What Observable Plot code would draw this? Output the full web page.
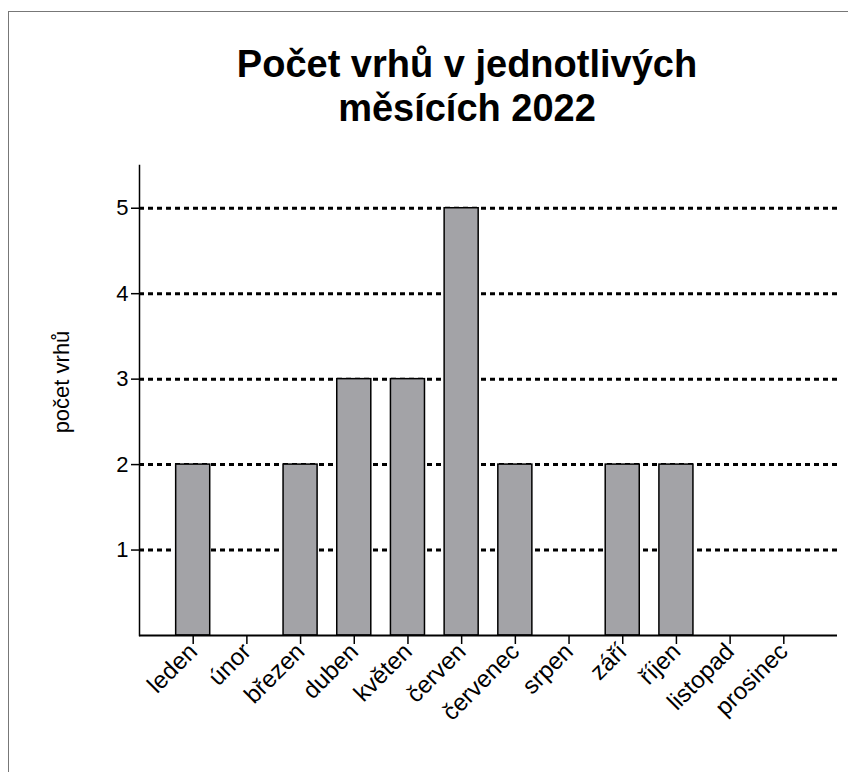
<!DOCTYPE html>
<html><head><meta charset="utf-8">
<script src="https://cdn.jsdelivr.net/npm/d3@7"></script>
<script src="https://cdn.jsdelivr.net/npm/@observablehq/plot@0.6"></script>
<style>
body{margin:0;background:#fff;}
#wrap{position:relative;width:848px;height:772px;overflow:hidden;font-family:"Liberation Sans",Arial,sans-serif;}
#border{position:absolute;left:8px;top:11px;width:1000px;height:1000px;border-left:1.5px solid #777;border-top:1.5px solid #777;}
#title{position:absolute;left:0;top:42px;width:934px;text-align:center;font-weight:bold;font-size:38px;line-height:44px;color:#000;}
#ylab{position:absolute;left:62px;top:382px;transform:translate(-50%,-50%) rotate(-90deg);font-size:22px;white-space:nowrap;color:#000;}
#chart{position:absolute;left:0;top:0;}
</style></head>
<body><div id="wrap"><div id="border"></div><div id="chart"></div><div id="title">Počet vrhů v jednotlivých<br>měsících 2022</div><div id="ylab">počet vrhů</div></div>
<script>
const months = ["leden","únor","březen","duben","květen","červen","červenec","srpen","září","říjen","listopad","prosinec"];
const counts = [2,0,2,3,3,5,2,0,2,2,0,0];
const yTicks = [1,2,3,4,5];

const data = months.map((m,i)=>({month:m, count:counts[i]})).filter(d=>d.count>0);

const chart = Plot.plot({
  width: 848,
  height: 772,
  marginLeft: 139,
  marginRight: 11,
  marginTop: 165,
  marginBottom: 137,
  style: {fontFamily: '"Liberation Sans", Arial, sans-serif', fontSize: "22px", background: "transparent", color: "#000"},
  x: {domain: months, paddingInner: 0.366, paddingOuter: 0.683, round: false},
  y: {domain: [0, 5.5]},
  marks: [
    Plot.ruleY(yTicks, {stroke: "#000", strokeWidth: 3, strokeDasharray: "5,4"}),
    Plot.barY(data, {x: "month", y: "count", fill: "#a3a3a7", stroke: "#000", strokeWidth: 1.5}),
    Plot.ruleY([0], {stroke: "#000", strokeWidth: 2}),
    Plot.frame({anchor: "left", stroke: "#000", strokeWidth: 1.5}),
    Plot.axisY({ticks: yTicks, tickSize: 8, tickPadding: 3, fontSize: 22, label: null, tickFormat: d => String(d), strokeWidth: 1.5}),
    Plot.axisX({tickSize: 9, tickPadding: 3, tickRotate: -45, fontSize: 24, label: null, strokeWidth: 1.5})
  ]
});
document.getElementById("chart").appendChild(chart);
d3.select(chart).selectAll("text").each(function() {
  const t = this.textContent.trim();
  const isY = /^\d+$/.test(t);
  this.style.fontSize = isY ? "22px" : "24px";
});
</script>
</body></html>
